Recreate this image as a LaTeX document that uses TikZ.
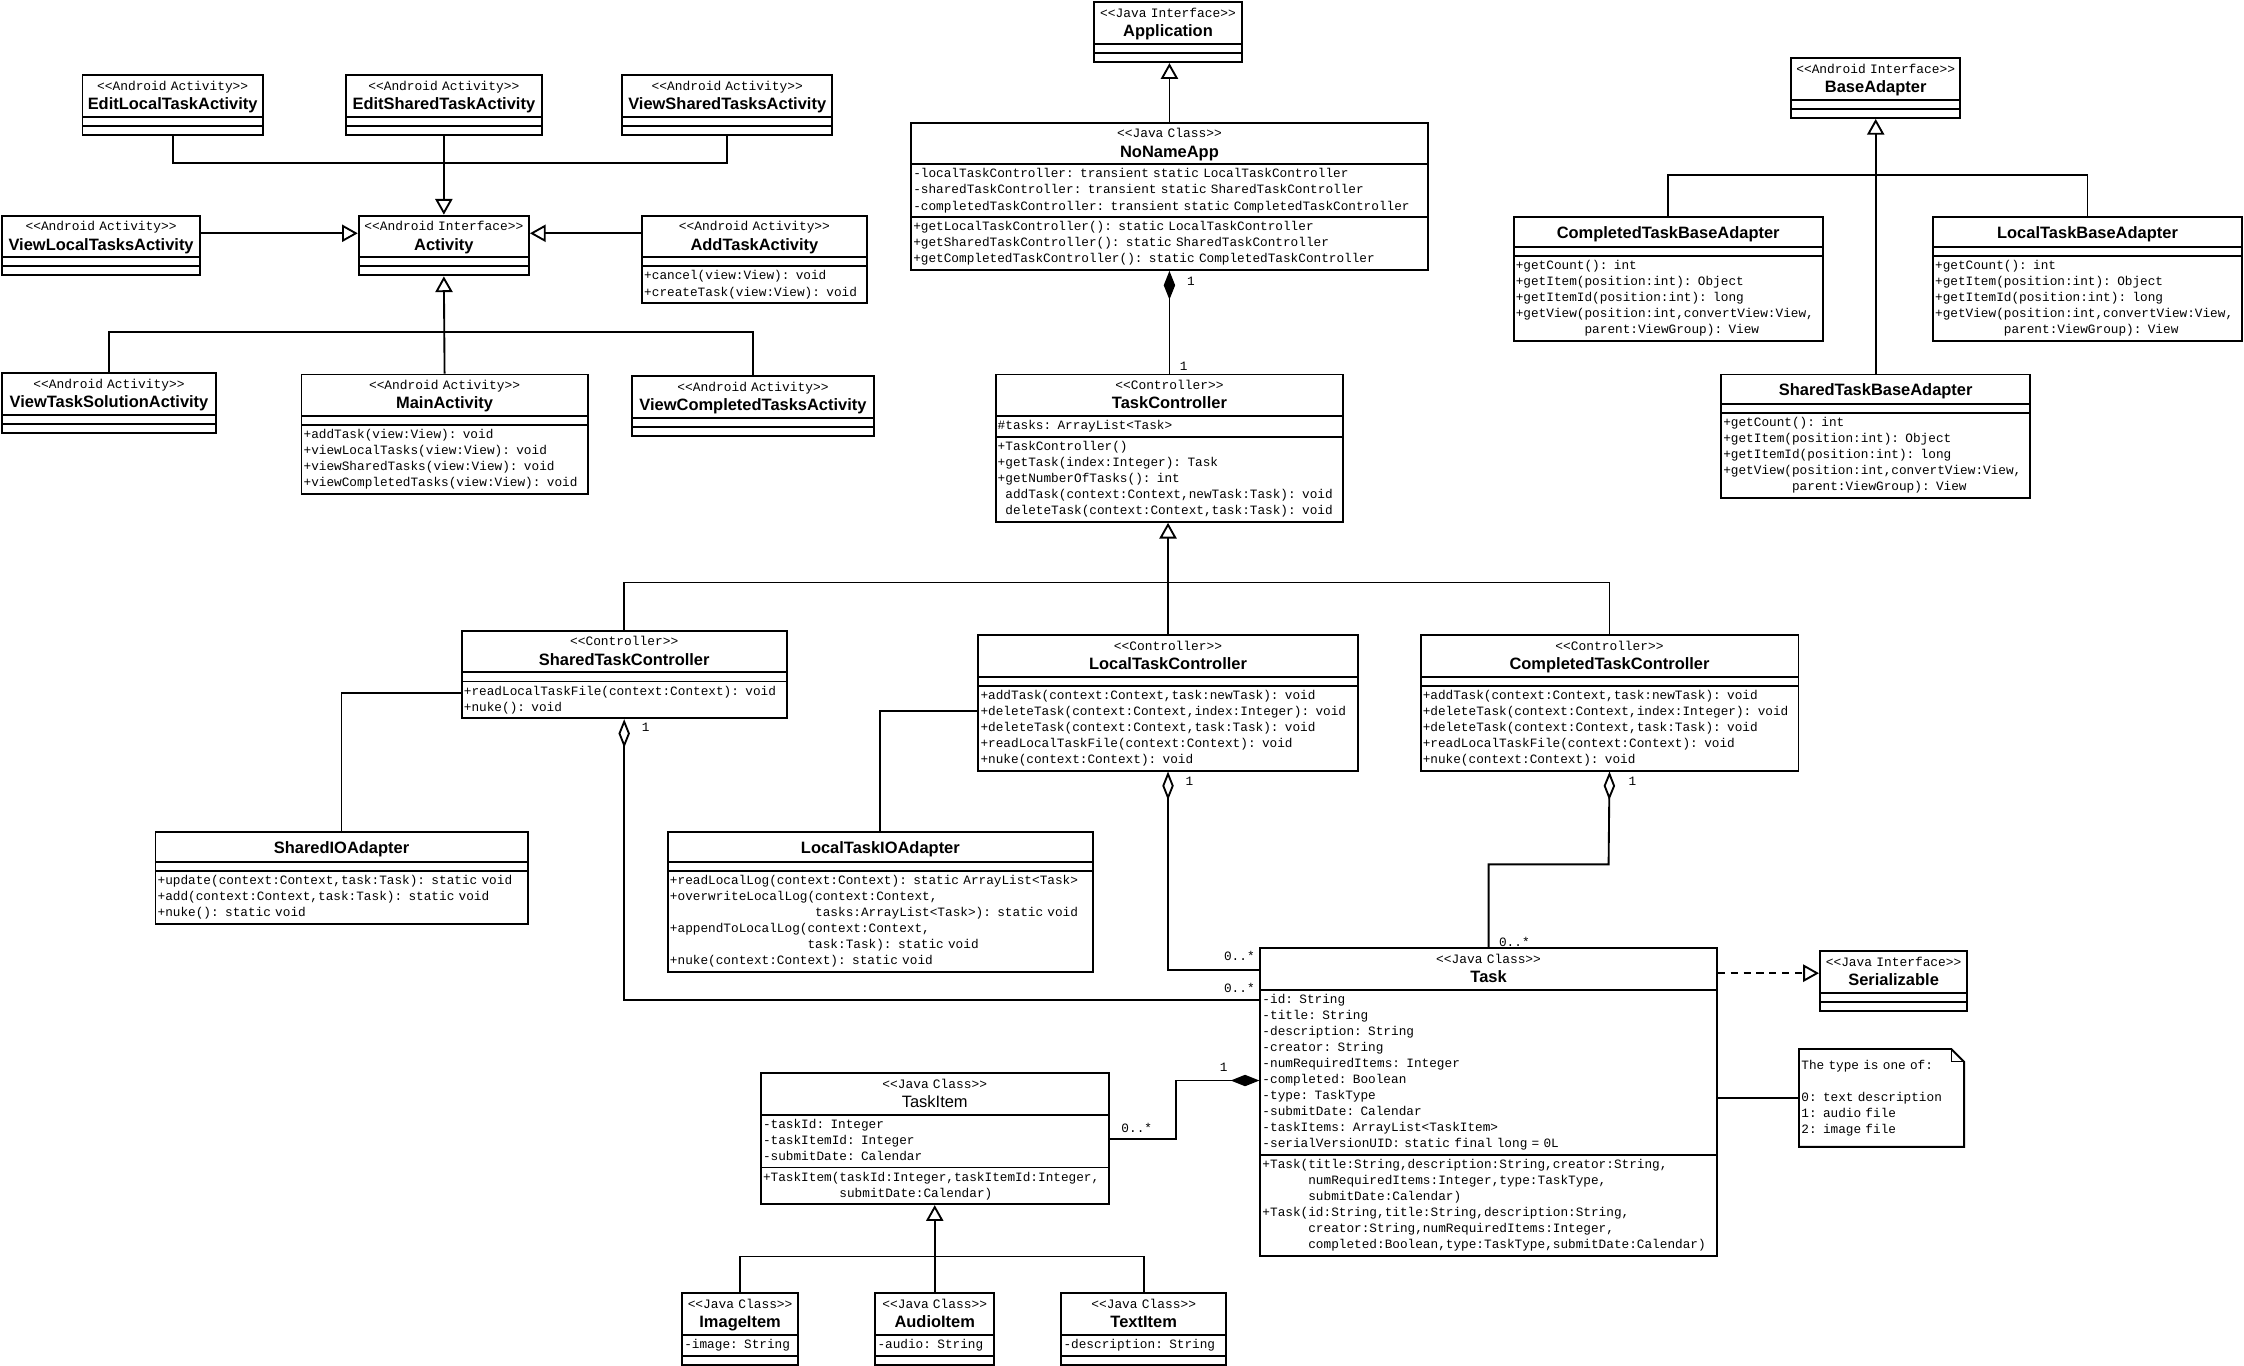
\documentclass[tikz,border=0pt]{standalone}
\usepackage{fontspec}
\setmainfont{Liberation Sans}
\setmonofont{Liberation Mono}
\usetikzlibrary{shapes.multipart,arrows.meta}

\newcommand{\mono}{\ttfamily\fontsize{8.9}{11.2}\selectfont}
\newcommand{\stereo}[1]{{\ttfamily\fontsize{9}{10}\selectfont <<#1>>}}
\newcommand{\ttl}[1]{{\rmfamily\fontsize{11.5}{13}\selectfont\bfseries #1}}
\newcommand{\hdr}[2]{\makebox[\linewidth]{\rule{0pt}{9pt}\stereo{#1}}\\[2.2pt]\makebox[\linewidth]{\ttl{#2}\rule[-3.5pt]{0pt}{3.5pt}}}
\newcommand{\hdronly}[1]{\makebox[\linewidth]{\rule{0pt}{13pt}\ttl{#1}\rule[-4.5pt]{0pt}{4.5pt}}}
\newcommand{\emptycmp}{\rule{0pt}{3pt}}
\newcommand{\cmp}[1]{\strut#1\strut}

\tikzstyle{umlclass} = [rectangle split, rectangle split parts=3, draw, line width=1.3pt,
    anchor=north west, inner xsep=1.5pt, inner ysep=1pt, align=left, font=\mono]
\tikzstyle{assoc} = [draw, line width=1.3pt]
\tikzstyle{gen} = [draw, line width=1.3pt, -{Triangle[open,length=11pt,width=12pt]}]
\tikzstyle{real} = [draw, line width=1.3pt, dash pattern=on 5pt off 4pt, -{Triangle[open,length=11pt,width=12pt]}]
\tikzstyle{comp} = [draw, line width=1.3pt, {Diamond[length=20pt,width=8pt]}-]
\tikzstyle{aggr} = [draw, line width=1.3pt, {Diamond[open,length=20pt,width=8pt]}-]
\tikzstyle{mult} = [font=\ttfamily\fontsize{8.9}{10}\selectfont, inner sep=0pt]

\begin{document}
\begin{tikzpicture}[x=1pt, y=-1pt]
    \path[use as bounding box, fill=white] (0,0) rectangle (1568,954);

    % activities
    \node[umlclass, text width=123pt] (ela) at (57,52) {\hdr{Android Activity}{EditLocalTaskActivity}\nodepart{two}\emptycmp\nodepart{three}\emptycmp};
    \node[umlclass, text width=134pt] (esa) at (241,52) {\hdr{Android Activity}{EditSharedTaskActivity}\nodepart{two}\emptycmp\nodepart{three}\emptycmp};
    \node[umlclass, text width=144pt] (vsa) at (434,52) {\hdr{Android Activity}{ViewSharedTasksActivity}\nodepart{two}\emptycmp\nodepart{three}\emptycmp};
    \node[umlclass, text width=135pt] (vla) at (1,150) {\hdr{Android Activity}{ViewLocalTasksActivity}\nodepart{two}\emptycmp\nodepart{three}\emptycmp};
    \node[umlclass, text width=116pt] (act) at (250,150) {\hdr{Android Interface}{Activity}\nodepart{two}\emptycmp\nodepart{three}\emptycmp};
    \node[umlclass, text width=154pt] (ata) at (448,150) {\hdr{Android Activity}{AddTaskActivity}\nodepart{two}\emptycmp
        \nodepart{three}\cmp{+cancel(view:View): void\\+createTask(view:View): void}};
    \node[umlclass, text width=146pt] (vtsa) at (1,260) {\hdr{Android Activity}{ViewTaskSolutionActivity}\nodepart{two}\emptycmp\nodepart{three}\emptycmp};
    \node[umlclass, text width=197pt] (mna) at (210,261) {\hdr{Android Activity}{MainActivity}\nodepart{two}\emptycmp
        \nodepart{three}\cmp{+addTask(view:View): void\\+viewLocalTasks(view:View): void\\+viewSharedTasks(view:View): void\\+viewCompletedTasks(view:View): void}};
    \node[umlclass, text width=166pt] (vcta) at (441,262) {\hdr{Android Activity}{ViewCompletedTasksActivity}\nodepart{two}\emptycmp\nodepart{three}\emptycmp};

    % application
    \node[umlclass, text width=100pt] (app) at (764,1) {\hdr{Java Interface}{Application}\nodepart{two}\emptycmp\nodepart{three}\emptycmp};
    \node[umlclass, text width=358pt] (nna) at (636,85) {\hdr{Java Class}{NoNameApp}
        \nodepart{two}\cmp{-localTaskController: transient static LocalTaskController\\-sharedTaskController: transient static SharedTaskController\\-completedTaskController: transient static CompletedTaskController}
        \nodepart{three}\cmp{+getLocalTaskController(): static LocalTaskController\\+getSharedTaskController(): static SharedTaskController\\+getCompletedTaskController(): static CompletedTaskController}};

    % adapters
    \node[umlclass, text width=115pt] (bad) at (1251,40) {\hdr{Android Interface}{BaseAdapter}\nodepart{two}\emptycmp\nodepart{three}\emptycmp};
    \node[umlclass, text width=213pt] (ctba) at (1057,151) {\hdronly{CompletedTaskBaseAdapter}\nodepart{two}\emptycmp
        \nodepart{three}\cmp{+getCount(): int\\+getItem(position:int): Object\\+getItemId(position:int): long\\+getView(position:int,convertView:View,\\\phantom{+getView(}parent:ViewGroup): View}};
    \node[umlclass, text width=213pt] (ltba) at (1350,151) {\hdronly{LocalTaskBaseAdapter}\nodepart{two}\emptycmp
        \nodepart{three}\cmp{+getCount(): int\\+getItem(position:int): Object\\+getItemId(position:int): long\\+getView(position:int,convertView:View,\\\phantom{+getView(}parent:ViewGroup): View}};
    \node[umlclass, text width=213pt] (stba) at (1202,261) {\hdronly{SharedTaskBaseAdapter}\nodepart{two}\emptycmp
        \nodepart{three}\cmp{+getCount(): int\\+getItem(position:int): Object\\+getItemId(position:int): long\\+getView(position:int,convertView:View,\\\phantom{+getView(}parent:ViewGroup): View}};

    % controllers
    \node[umlclass, text width=240pt] (tc) at (695,261) {\hdr{Controller}{TaskController}
        \nodepart{two}\cmp{\#tasks: ArrayList<Task>}
        \nodepart{three}\cmp{+TaskController()\\+getTask(index:Integer): Task\\+getNumberOfTasks(): int\\\phantom{+}addTask(context:Context,newTask:Task): void\\\phantom{+}deleteTask(context:Context,task:Task): void}};
    \node[umlclass, text width=224pt] (stc) at (322,440) {\hdr{Controller}{SharedTaskController}\nodepart{two}\emptycmp
        \nodepart{three}\cmp{+readLocalTaskFile(context:Context): void\\+nuke(): void}};
    \node[umlclass, text width=262pt] (ltc) at (683,443) {\hdr{Controller}{LocalTaskController}\nodepart{two}\emptycmp
        \nodepart{three}\cmp{+addTask(context:Context,task:newTask): void\\+deleteTask(context:Context,index:Integer): void\\+deleteTask(context:Context,task:Task): void\\+readLocalTaskFile(context:Context): void\\+nuke(context:Context): void}};
    \node[umlclass, text width=261pt] (ctc) at (992,443) {\hdr{Controller}{CompletedTaskController}\nodepart{two}\emptycmp
        \nodepart{three}\cmp{+addTask(context:Context,task:newTask): void\\+deleteTask(context:Context,index:Integer): void\\+deleteTask(context:Context,task:Task): void\\+readLocalTaskFile(context:Context): void\\+nuke(context:Context): void}};

    % io adapters
    \node[umlclass, text width=257pt] (sio) at (108,581) {\hdronly{SharedIOAdapter}\nodepart{two}\emptycmp
        \nodepart{three}\cmp{+update(context:Context,task:Task): static void\\+add(context:Context,task:Task): static void\\+nuke(): static void}};
    \node[umlclass, text width=294pt] (lio) at (466,581) {\hdronly{LocalTaskIOAdapter}\nodepart{two}\emptycmp
        \nodepart{three}\cmp{+readLocalLog(context:Context): static ArrayList<Task>\\+overwriteLocalLog(context:Context,\\\phantom{+overwriteLocalLog(}tasks:ArrayList<Task>): static void\\+appendToLocalLog(context:Context,\\\phantom{+appendToLocalLog(}task:Task): static void\\+nuke(context:Context): static void}};

    % task
    \node[umlclass, text width=316pt] (task) at (880,662) {\hdr{Java Class}{Task}
        \nodepart{two}\cmp{-id: String\\-title: String\\-description: String\\-creator: String\\-numRequiredItems: Integer\\-completed: Boolean\\-type: TaskType\\-submitDate: Calendar\\-taskItems: ArrayList<TaskItem>\\-serialVersionUID: static final long = 0L}
        \nodepart{three}\cmp{+Task(title:String,description:String,creator:String,\\\phantom{+Task(}numRequiredItems:Integer,type:TaskType,\\\phantom{+Task(}submitDate:Calendar)\\+Task(id:String,title:String,description:String,\\\phantom{+Task(}creator:String,numRequiredItems:Integer,\\\phantom{+Task(}completed:Boolean,type:TaskType,submitDate:Calendar)}};
    \node[umlclass, text width=100pt] (ser) at (1271,664) {\hdr{Java Interface}{Serializable}\nodepart{two}\emptycmp\nodepart{three}\emptycmp};
    \node[anchor=north west, text width=112pt, minimum height=68pt, inner sep=1.5pt, align=left, font=\mono] (note) at (1257,733)
        {\cmp{The type is one of:\\\mbox{}\\0: text description\\1: audio file\\2: image file}};
    \draw[line width=1.3pt] (note.north west) -- ([xshift=-9pt]note.north east) -- ([yshift=-9pt]note.north east)
        -- (note.south east) -- (note.south west) -- cycle;
    \draw[line width=0.8pt] ([xshift=-9pt]note.north east) |- ([yshift=-9pt]note.north east);

    % task items
    \node[umlclass, text width=240pt] (ti) at (531,749) {\hdr{Java Class}{\mdseries TaskItem}
        \nodepart{two}\cmp{-taskId: Integer\\-taskItemId: Integer\\-submitDate: Calendar}
        \nodepart{three}\cmp{+TaskItem(taskId:Integer,taskItemId:Integer,\\\phantom{+TaskItem(}submitDate:Calendar)}};
    \node[umlclass, text width=78pt] (img) at (476,903) {\hdr{Java Class}{ImageItem}\nodepart{two}\cmp{-image: String}\nodepart{three}\emptycmp};
    \node[umlclass, text width=80pt] (aud) at (611,903) {\hdr{Java Class}{AudioItem}\nodepart{two}\cmp{-audio: String}\nodepart{three}\emptycmp};
    \node[umlclass, text width=112pt] (txt) at (741,903) {\hdr{Java Class}{TextItem}\nodepart{two}\cmp{-description: String}\nodepart{three}\emptycmp};

    % generalisations
    \coordinate (actup) at (309.5,114);
    \coordinate (actdown) at (309.5,232);
    \draw[assoc] (ela.south) |- (actup) -| (vsa.south);
    \draw[gen] (esa.south) -- (act.north);
    \draw[gen] ([yshift=-13pt]vla.north east) -- ([yshift=-13pt]act.north west);
    \draw[gen] ([yshift=-13pt]ata.north west) -- ([yshift=-13pt]act.north east);
    \draw[assoc] (vtsa.north) |- (actdown) -| (vcta.north);
    \draw[gen] (mna.north) -- (act.south);

    \draw[gen] (nna.north) -- (nna.north |- app.south);

    \coordinate (badown) at (1310,122);
    \draw[assoc] (ctba.north) |- (badown) -| (ltba.north);
    \draw[gen] (stba.north) -- (bad.south);

    \coordinate (tcdown) at (816,407);
    \draw[assoc] (stc.north) |- (tcdown) -| (ctc.north);
    \draw[gen] (ltc.north) -- (ltc.north |- tc.south);

    \coordinate (tidown) at (652.5,878);
    \draw[assoc] (img.north) |- (tidown) -| (txt.north);
    \draw[gen] (aud.north) -- (ti.south);

    \coordinate (serin) at ([yshift=-18pt]task.north east);
    \draw[real] (serin) -- (serin -| ser.west);
    \draw[assoc] (note.west) -- (note.west -| task.east);

    % associations
    \draw[comp] (nna.south) -- (tc.north);
    \draw[assoc] ([yshift=-44pt]stc.north west) -| (sio.north);
    \draw[assoc] ([yshift=-54pt]ltc.north west) -| (lio.north);
    \draw[aggr] (stc.south) |- ([yshift=-37pt]task.north west);
    \draw[aggr] (ltc.south) |- ([yshift=-16pt]task.north west);
    \coordinate (ctcbend) at (1124,604);
    \draw[aggr] (ctc.south) -- (ctcbend) -| (task.north);
    \coordinate (tibend) at (822,776);
    \draw[comp] ([yshift=-93pt]task.north west) -| (tibend) |- ([yshift=-47pt]ti.north east);

    % multiplicities
    \node[mult] (m1) at ([xshift=15pt,yshift=-7pt]nna.south) {1};
    \node[mult] (m2) at ([xshift=10pt,yshift=5pt]tc.north) {1};
    \node[mult] (m3) at ([xshift=15pt,yshift=-6pt]stc.south) {1};
    \node[mult] (m4) at ([xshift=15pt,yshift=-7pt]ltc.south) {1};
    \node[mult] (m5) at ([xshift=16pt,yshift=-7pt]ctc.south) {1};
    \node[mult] (m6) at ([xshift=-14pt,yshift=-6pt]task.north west) {0..*};
    \node[mult] (m7) at ([xshift=-14pt,yshift=-28pt]task.north west) {0..*};
    \node[mult] (m8) at ([xshift=18pt,yshift=4pt]task.north) {0..*};
    \node[mult] (m9) at ([xshift=-25pt,yshift=-84pt]task.north west) {1};
    \node[mult] (m10) at ([xshift=19pt,yshift=-39pt]ti.north east) {0..*};
\end{tikzpicture}
\end{document}
